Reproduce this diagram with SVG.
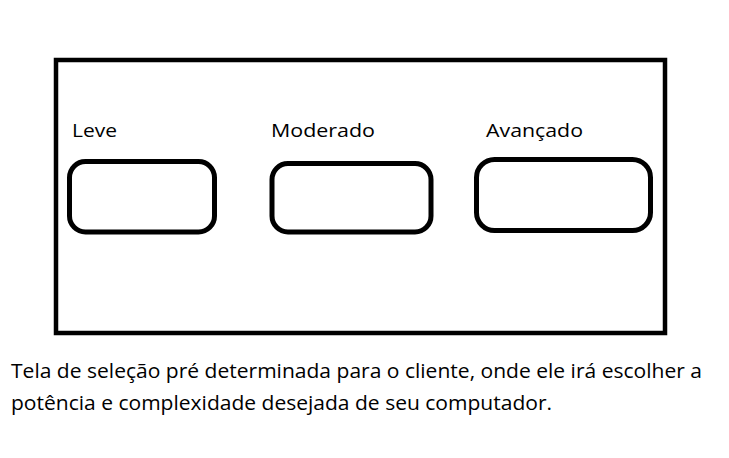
<svg xmlns="http://www.w3.org/2000/svg" width="729" height="458" viewBox="0 0 729 458">
<style>
.frame{fill:none;stroke:#000;stroke-width:4.5}
.btn{fill:none;stroke:#000;stroke-width:5}
.lbl{font-family:"Open Sans","Noto Sans",sans-serif;font-size:18.5px;fill:#000}
.cap{font-family:"Open Sans","Noto Sans",sans-serif;font-size:19.5px;fill:#000}
</style>
<rect width="729" height="458" fill="#fff"/>
<g id="screen"><rect class="frame" x="56" y="60" width="609" height="273"/></g>
<g id="leve">
<text class="lbl" x="72" y="137" textLength="45" lengthAdjust="spacingAndGlyphs">Leve</text>
<rect class="btn" x="69.5" y="161.5" width="145" height="70.5" rx="16"/>
</g>
<g id="moderado">
<text class="lbl" x="271" y="137" textLength="104" lengthAdjust="spacingAndGlyphs">Moderado</text>
<rect class="btn" x="272" y="163.5" width="159" height="68.5" rx="16"/>
</g>
<g id="avancado">
<text class="lbl" x="486" y="136.5" textLength="97" lengthAdjust="spacingAndGlyphs">Avançado</text>
<rect class="btn" x="476.5" y="159.5" width="174" height="71" rx="18"/>
</g>
<g id="connectors"></g>
<g id="caption">
<text class="cap" x="11" y="377.5" textLength="691" lengthAdjust="spacingAndGlyphs">Tela de seleção pré determinada para o cliente, onde ele irá escolher a</text>
<text class="cap" x="11" y="409.5" textLength="541" lengthAdjust="spacingAndGlyphs">potência e complexidade desejada de seu computador.</text>
</g>
</svg>
